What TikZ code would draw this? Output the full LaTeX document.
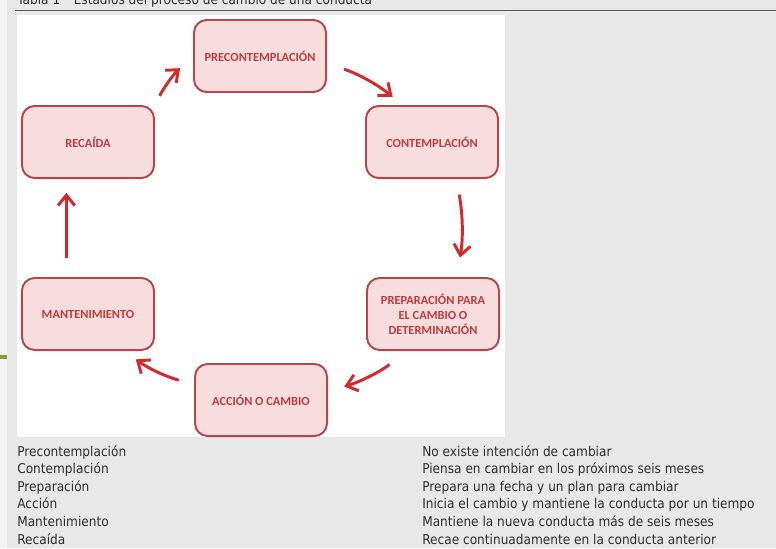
\documentclass[tikz,border=0pt]{standalone}
\usepackage{fontspec}
\setmainfont{DejaVu Sans}[FakeStretch=0.9]
\newfontfamily\boxfont{Carlito}
\usetikzlibrary{arrows.meta}
\definecolor{cred}{HTML}{D42A2C}
\definecolor{cdark}{HTML}{B8454A}
\definecolor{cpink}{HTML}{F7DDDD}
\definecolor{ctext}{HTML}{C23A3E}
\definecolor{cback}{HTML}{E8E8E8}
\definecolor{cstrip}{HTML}{F3F3F3}
\definecolor{cink}{HTML}{2E2E2E}
\definecolor{colive}{HTML}{8C9B2B}
\tikzset{
  stage/.style={draw=cdark, fill=cpink, line width=1.4pt, rounded corners=9pt, minimum width=3.3cm, minimum height=1.8cm,
    align=center, inner sep=2pt, outer sep=0pt, text=ctext, font=\boxfont\bfseries\fontsize{8.8}{10.7}\selectfont},
  cycle/.style={-{Straight Barb[length=2.6mm, width=4.2mm]}, draw=cred, line width=2.1pt, bend left=10},
  row/.style={anchor=base west, inner sep=0pt, text=cink, font=\fontsize{9.6}{11}\selectfont},
}

\begin{document}
\begin{tikzpicture}[x=0.025cm, y=-0.025cm]
  \useasboundingbox (0,0) rectangle (776,548);
  \clip (0,0) rectangle (776,548);
  % ---- page
  \fill[cback] (0,0) rectangle (776,548);
  \fill[cstrip] (0,0) rectangle (7,548);
  \fill[white] (17,15) rectangle (505,437);
  \draw[cink!80, line width=1.1pt] (15,10.5) -- (776,10.5);
  \fill[colive] (0,355) rectangle (7,359);
  \node[row] (tit) at (17,4) {Tabla 1\quad Estadios del proceso de cambio de una conducta};
  % ---- six stages
  \node[stage] (pre) at (260,56) {PRECONTEMPLACIÓN};
  \node[stage] (con) at (432,142) {CONTEMPLACIÓN};
  \node[stage] (prep) at (433,314) {PREPARACIÓN PARA\\EL CAMBIO O\\DETERMINACIÓN};
  \node[stage] (acc) at (261,400) {ACCIÓN O CAMBIO};
  \node[stage] (man) at (88,314) {MANTENIMIENTO};
  \node[stage] (rec) at (88,142) {RECAÍDA};
  % ---- cycle
  \draw[cycle, shorten <=0.29cm, shorten >=0.46cm] (rec.north east) to (pre.west);
  \draw[cycle, shorten <=0.48cm, shorten >=0.36cm] (pre.-6) to (con.128);
  \draw[cycle, shorten <=0.42cm, shorten >=0.52cm] (con.-56) to (prep.57);
  \draw[cycle, shorten <=0.6cm, shorten >=0.45cm] (prep.-124) to (acc.7);
  \draw[cycle, shorten <=0.42cm, shorten >=0.4cm] (acc.167) to (man.-46);
  \draw[cycle, bend left=0, shorten <=0.5cm, shorten >=0.37cm] (man.121) to (rec.-121);
  % ---- table below
  \foreach \i/\st/\ds in {1/Precontemplación/No existe intención de cambiar,
      2/Contemplación/Piensa en cambiar en los próximos seis meses,
      3/Preparación/Prepara una fecha y un plan para cambiar,
      4/Acción/Inicia el cambio y mantiene la conducta por un tiempo,
      5/Mantenimiento/Mantiene la nueva conducta más de seis meses,
      6/Recaída/Recae continuadamente en la conducta anterior} {
    \node[row] (st\i) at (17,{438.4+17.6*\i}) {\st};
    \node[row] (ds\i) at (422,{438.4+17.6*\i}) {\ds};
  }
\end{tikzpicture}
\end{document}
